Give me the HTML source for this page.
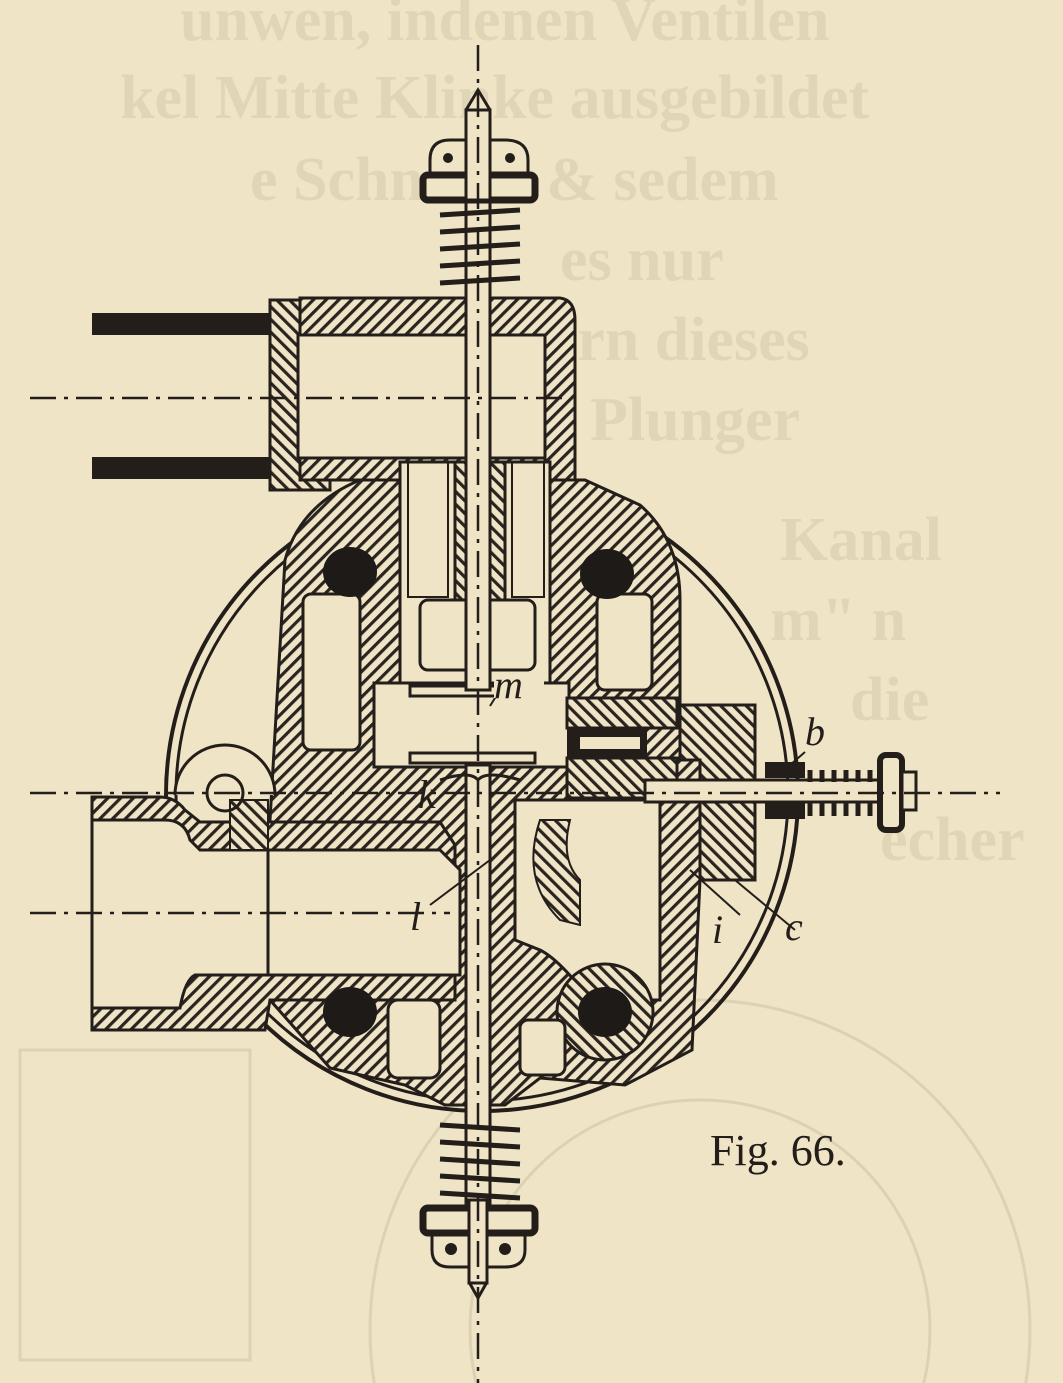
<!DOCTYPE html>
<html><head><meta charset="utf-8"><style>
html,body{margin:0;padding:0;background:#efe4c6;overflow:hidden;width:1063px;height:1383px}
svg{display:block}
</style></head><body>
<svg width="1063" height="1383" viewBox="0 0 1063 1383" xmlns="http://www.w3.org/2000/svg">
<defs>
<pattern id="h" width="9" height="9" patternUnits="userSpaceOnUse" patternTransform="rotate(45)">
<rect width="9" height="9" fill="#efe4c6"/><rect width="3.2" height="9" fill="#2a2420"/></pattern>
<pattern id="h2" width="9" height="9" patternUnits="userSpaceOnUse" patternTransform="rotate(-45)">
<rect width="9" height="9" fill="#efe4c6"/><rect width="3.2" height="9" fill="#2a2420"/></pattern>
</defs>
<rect width="1063" height="1383" fill="#efe4c6"/>
<g fill="#ddd1b3" font-family="Liberation Serif,serif" font-weight="bold" font-size="62" opacity="0.75">
<text x="180" y="40">unwen, indenen Ventilen</text>
<text x="120" y="118">kel Mitte Klinke ausgebildet</text>
<text x="250" y="200">e Schneide &amp; sedem</text>
<text x="560" y="280">es nur</text>
<text x="560" y="360">irn dieses</text>
<text x="590" y="440">Plunger</text>
<text x="780" y="560">Kanal</text>
<text x="770" y="640">m" n</text>
<text x="850" y="720">die</text>
<text x="880" y="860">echer</text>
</g>
<g fill="none" stroke="#d9cdaf" stroke-width="3" opacity="0.8">
<circle cx="700" cy="1330" r="330"/><circle cx="700" cy="1330" r="230"/>
<rect x="20" y="1050" width="230" height="310"/>
</g>
<g stroke="#241e1a" fill="none">
<circle cx="482" cy="795" r="316" stroke-width="4"/>
<circle cx="482" cy="795" r="306" stroke-width="3"/>
</g>
<!-- upper pipe -->
<rect x="92" y="313" width="205" height="22" fill="#241e1a"/>
<rect x="92" y="457" width="205" height="22" fill="#241e1a"/>
<rect x="270" y="300" width="60" height="190" fill="url(#h2)" stroke="#241e1a" stroke-width="3"/>
<path d="M300 298 L560 298 Q575 300 575 320 L575 490 L545 490 L545 335 L300 335 Z" fill="url(#h)" stroke="#241e1a" stroke-width="3"/>
<rect x="298" y="335" width="247" height="123" fill="#efe4c6" stroke="#241e1a" stroke-width="3"/>
<path d="M300 458 L545 458 L545 480 L300 480 Z" fill="url(#h)" stroke="#241e1a" stroke-width="3"/>
<!-- body -->
<path d="M270 820 L285 560 Q300 505 360 480 L585 480 L640 505 Q680 540 680 600 L680 705 L755 705 L755 880 L700 880 L692 1050 L625 1085 L540 1078 L505 1105 L445 1105 L405 1085 L330 1068 L270 1000 Z" fill="url(#h)" stroke="#241e1a" stroke-width="3"/>
<path d="M680 705 L755 705 L755 880 L700 880 L700 760 L680 760 Z" fill="url(#h2)" stroke="#241e1a" stroke-width="3"/>
<rect x="400" y="462" width="150" height="225" fill="#efe4c6" stroke="#241e1a" stroke-width="3"/>
<rect x="455" y="462" width="50" height="138" fill="url(#h2)" stroke="#241e1a" stroke-width="3"/>
<rect x="420" y="600" width="115" height="70" rx="8" fill="none" stroke="#241e1a" stroke-width="3"/>
<rect x="408" y="462" width="40" height="135" fill="none" stroke="#241e1a" stroke-width="2"/>
<rect x="512" y="462" width="32" height="135" fill="none" stroke="#241e1a" stroke-width="2"/>
<rect x="374" y="683" width="195" height="84" fill="#efe4c6" stroke="#241e1a" stroke-width="3"/>
<rect x="410" y="686" width="125" height="10" fill="#efe4c6" stroke="#241e1a" stroke-width="3"/>
<rect x="410" y="753" width="125" height="10" fill="#efe4c6" stroke="#241e1a" stroke-width="3"/>
<rect x="567" y="698" width="110" height="30" fill="url(#h2)" stroke="#241e1a" stroke-width="3"/>
<rect x="567" y="758" width="110" height="40" fill="url(#h2)" stroke="#241e1a" stroke-width="3"/>
<rect x="567" y="728" width="80" height="30" fill="#241e1a"/>
<rect x="580" y="737" width="60" height="12" fill="#efe4c6"/>
<rect x="303" y="594" width="57" height="156" rx="8" fill="#efe4c6" stroke="#241e1a" stroke-width="3"/>
<rect x="597" y="594" width="55" height="96" rx="8" fill="#efe4c6" stroke="#241e1a" stroke-width="3"/>
<path d="M515 800 L660 800 L660 1000 L590 1000 Q560 960 540 950 L515 940 Z" fill="#efe4c6" stroke="#241e1a" stroke-width="3"/>
<path d="M540 820 Q520 880 560 920 L580 925 L580 880 Q560 860 570 820 Z" fill="url(#h2)" stroke="#241e1a" stroke-width="2"/>
<circle cx="605" cy="1012" r="48" fill="url(#h2)" stroke="#241e1a" stroke-width="3"/>
<rect x="388" y="1000" width="52" height="78" rx="10" fill="#efe4c6" stroke="#241e1a" stroke-width="3"/>
<rect x="520" y="1020" width="45" height="55" rx="8" fill="#efe4c6" stroke="#241e1a" stroke-width="3"/>
<!-- lower pipe -->
<path d="M92 797 L160 797 Q175 797 185 810 L200 822 L440 822 L455 845 L455 1000 L270 1000 L265 1030 L92 1030 Z" fill="url(#h)" stroke="#241e1a" stroke-width="3"/>
<path d="M92 820 L165 820 Q185 820 190 840 L200 850 L440 850 L460 870 L460 975 L195 975 Q185 980 180 1008 L92 1008 Z" fill="#efe4c6" stroke="#241e1a" stroke-width="3"/>
<line x1="268" y1="850" x2="268" y2="975" stroke="#241e1a" stroke-width="3"/>
<line x1="92" y1="797" x2="92" y2="1030" stroke="#241e1a" stroke-width="3"/>
<rect x="230" y="800" width="38" height="50" fill="url(#h2)" stroke="#241e1a" stroke-width="2"/>
<path d="M175 795 A50 50 0 1 1 275 795" fill="#efe4c6" stroke="#241e1a" stroke-width="3"/>
<circle cx="225" cy="793" r="18" fill="none" stroke="#241e1a" stroke-width="3"/>
<g fill="#1e1a17">
<ellipse cx="350" cy="572" rx="27" ry="25"/><ellipse cx="607" cy="574" rx="27" ry="25"/>
<ellipse cx="350" cy="1012" rx="27" ry="25"/><ellipse cx="605" cy="1012" rx="27" ry="25"/>
</g>
<!-- stem -->
<rect x="466" y="110" width="24" height="580" fill="#efe4c6" stroke="#241e1a" stroke-width="3"/>
<rect x="466" y="765" width="24" height="445" fill="#efe4c6" stroke="#241e1a" stroke-width="3"/>
<path d="M466 110 L478 90 L490 110" fill="#efe4c6" stroke="#241e1a" stroke-width="3"/>
<path d="M469 1282 L478 1298 L487 1282" fill="#efe4c6" stroke="#241e1a" stroke-width="3"/>
<path d="M440 780 Q470 770 478 780 Q486 770 520 780" fill="none" stroke="#241e1a" stroke-width="3"/>
<g stroke="#241e1a" stroke-width="5" fill="none">
<path d="M440 215 L520 210 M440 232 L520 227 M440 249 L520 244 M440 266 L520 261 M440 283 L520 278"/>
<path d="M440 1125 L520 1130 M440 1142 L520 1147 M440 1159 L520 1164 M440 1176 L520 1181 M440 1193 L520 1198"/>
</g>
<path d="M430 175 L430 160 Q430 140 450 140 L505 140 Q528 140 528 160 L528 175 Z" fill="#efe4c6" stroke="#241e1a" stroke-width="3"/>
<rect x="423" y="175" width="112" height="25" rx="5" fill="#efe4c6" stroke="#241e1a" stroke-width="7"/>
<circle cx="448" cy="158" r="5" fill="#241e1a"/><circle cx="510" cy="158" r="5" fill="#241e1a"/>
<rect x="423" y="1208" width="112" height="25" rx="5" fill="#efe4c6" stroke="#241e1a" stroke-width="7"/>
<path d="M432 1235 L432 1250 Q432 1267 450 1267 L505 1267 Q525 1267 525 1250 L525 1235 Z" fill="#efe4c6" stroke="#241e1a" stroke-width="3"/>
<circle cx="451" cy="1249" r="6" fill="#241e1a"/><circle cx="505" cy="1249" r="6" fill="#241e1a"/>
<rect x="466" y="110" width="24" height="90" fill="#efe4c6" stroke="#241e1a" stroke-width="3"/>
<rect x="469" y="1200" width="18" height="83" fill="#efe4c6" stroke="#241e1a" stroke-width="3"/>
<!-- right valve rod -->
<rect x="645" y="780" width="250" height="22" fill="#efe4c6" stroke="#241e1a" stroke-width="3"/>
<rect x="765" y="762" width="40" height="16" fill="#241e1a"/><rect x="765" y="803" width="40" height="16" fill="#241e1a"/>
<g stroke="#241e1a" stroke-width="5">
<path d="M810 770 L810 782 M822 770 L822 782 M834 770 L834 782 M846 770 L846 782 M858 770 L858 782 M870 770 L870 782"/>
<path d="M810 802 L810 816 M822 802 L822 816 M834 802 L834 816 M846 802 L846 816 M858 802 L858 816 M870 802 L870 816"/>
</g>
<rect x="880" y="755" width="22" height="75" rx="6" fill="#efe4c6" stroke="#241e1a" stroke-width="6"/>
<rect x="902" y="772" width="14" height="38" fill="#efe4c6" stroke="#241e1a" stroke-width="3"/>
<g stroke="#241e1a" stroke-width="2.5" stroke-dasharray="26 8 4 8" fill="none">
<line x1="478" y1="45" x2="478" y2="1383"/>
<line x1="30" y1="398" x2="570" y2="398"/>
<line x1="30" y1="793" x2="1000" y2="793"/>
<line x1="30" y1="913" x2="450" y2="913"/>
</g>
<g stroke="#241e1a" stroke-width="2">
<line x1="500" y1="690" x2="490" y2="706"/><line x1="430" y1="905" x2="490" y2="860"/>
<line x1="740" y1="915" x2="690" y2="870"/><line x1="795" y1="930" x2="735" y2="880"/>
<line x1="805" y1="752" x2="790" y2="765"/>
</g>
<g font-family="Liberation Serif,serif" font-style="italic" font-size="40" fill="#241e1a">
<rect x="494" y="672" width="50" height="26" fill="#efe4c6"/>
<text x="494" y="698">m</text>
<text x="418" y="808">k</text>
<text x="410" y="930">l</text>
<text x="712" y="943">i</text>
<text x="785" y="940">c</text>
<text x="805" y="745">b</text>
</g>
<text x="710" y="1165" font-family="Liberation Serif,serif" font-size="44" fill="#241e1a">Fig. 66.</text>
</svg>
</body></html>
